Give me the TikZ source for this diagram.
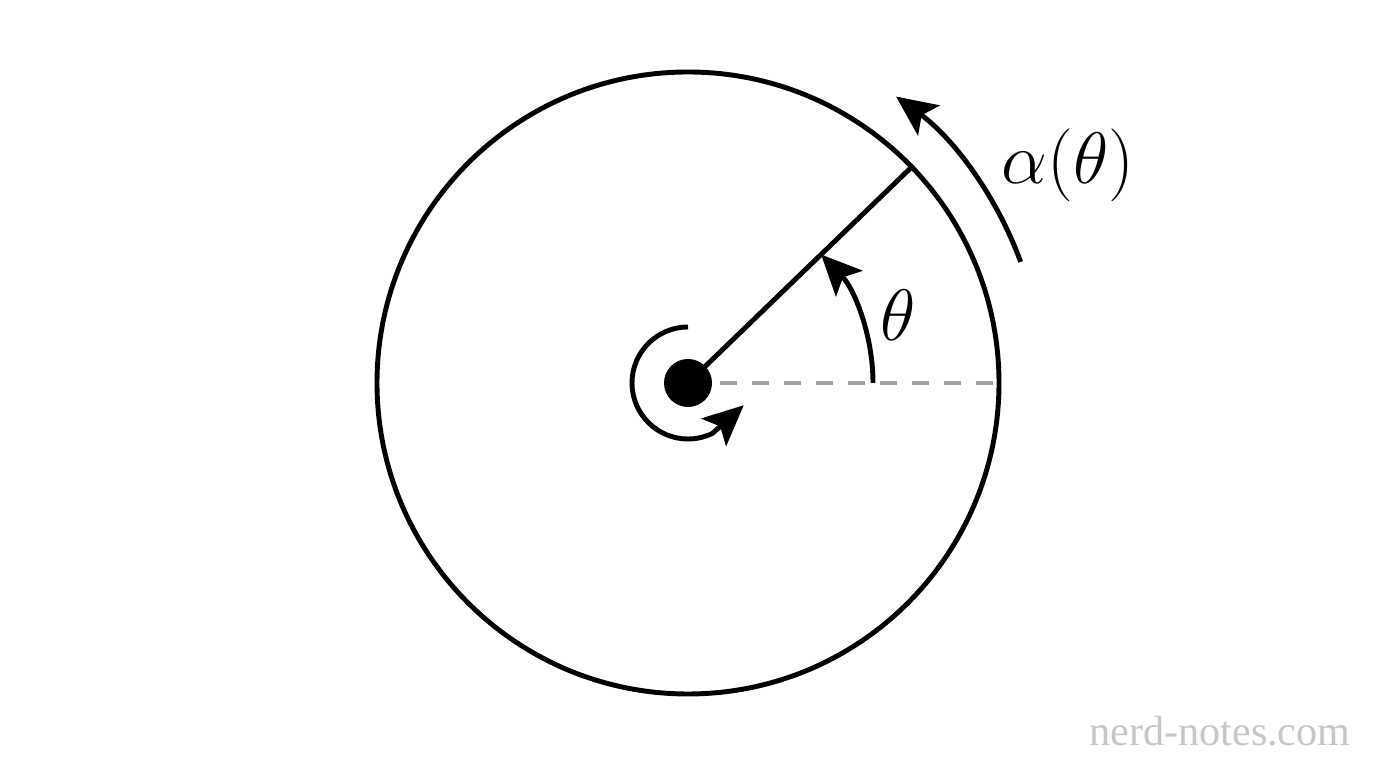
\documentclass[tikz,border=0pt]{standalone}
\usepackage{fontspec}
\newfontfamily\wmfont{Liberation Serif}
\usetikzlibrary{arrows.meta}
\begin{document}
\begin{tikzpicture}[
  thick line/.style={line width=1.4pt},
  tip/.style={-{Stealth[length=11.5pt,width=10.5pt,inset=2.5pt]}},
  lbl/.style={font=\fontsize{20}{24}\selectfont, inner sep=0pt}
]
\useasboundingbox (0,0) rectangle (13.76,7.68);
\coordinate (o) at (6.88,3.85);
\node[draw, thick line, circle, minimum size=6.22cm, inner sep=0pt] (wheel) at (o) {};
\draw[color={rgb,255:red,160;green,160;blue,160}, line width=1.3pt, dash pattern=on 0.17cm off 0.15cm] (o) -- (wheel.east);
\node[circle, fill=black, minimum size=0.48cm, inner sep=0pt] (hub) at (o) {};
\draw[thick line] (hub.center) -- (wheel.44);
% theta arc
\draw[thick line, tip] ([shift={(0:1.85)}]o) arc[start angle=0, end angle=44, radius=1.85cm];
% alpha arc
\draw[thick line, tip] ([shift={(20:3.54)}]o) arc[start angle=20, end angle=54, radius=3.54cm];
% small rotation arrow
\draw[thick line, tip] ([shift={(90:0.56)}]o) arc[start angle=90, end angle=296, radius=0.56cm] -- ++(42:0.42);
\node[lbl] (theta) at (8.98,4.53) {$\theta$};
\node[lbl] (alpha) at (10.68,6.03) {$\alpha(\theta)$};
\node[font=\wmfont\fontsize{12}{14}\selectfont, text=black!22, inner sep=0pt] (wm) at (12.2,0.37) {nerd-notes.com};
\end{tikzpicture}
\end{document}
